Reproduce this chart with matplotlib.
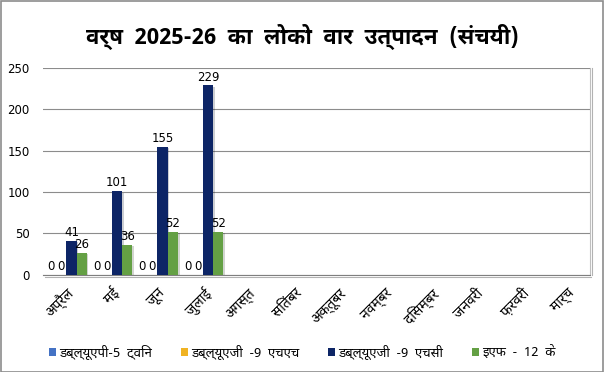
import numpy as np
import matplotlib
matplotlib.use("Agg")
import matplotlib.pyplot as plt
import matplotlib.patheffects as pe
from matplotlib.patches import Rectangle, Patch

plt.rcParams['font.family'] = ['Noto Sans Devanagari', 'DejaVu Sans']

# ---- data ----
months = ["अप्रैल", "मई", "जून", "जुलाई", "अगस्त", "सितंबर",
          "अक्तूबर", "नवम्बर", "दिसम्बर", "जनवरी", "फ़रवरी", "मार्च"]
series_names = ["डब्ल्यूएपी-5  ट्विन", "डब्ल्यूएजी  -9  एचएच",
                "डब्ल्यूएजी  -9  एचसी", "इएफ  -  12  के"]
wap5_twin = [0, 0, 0, 0]
wag9_hh = [0, 0, 0, 0]
wag9_hc = [41, 101, 155, 229]
ef12k = [26, 36, 52, 52]
colors = ["#4472C4", "#F0B323", "#0D2566", "#64A044"]

fig = plt.figure(figsize=(6.04, 3.72), dpi=100)
ax = fig.add_axes([0.072, 0.262, 0.905, 0.555])

x = np.arange(len(months))
w = 0.225
shadow = [pe.SimplePatchShadow(offset=(1.2, -1.0), alpha=0.2), pe.Normal()]
all_series = [wap5_twin, wag9_hh, wag9_hc, ef12k]
for i, (vals, col) in enumerate(zip(all_series, colors)):
    xs = x[:len(vals)] + (i - 1.5) * w
    bars = ax.bar(xs, vals, w, color=col, zorder=3)
    for b in bars:
        b.set_path_effects(shadow)
    for xi, v in zip(xs, vals):
        ax.text(xi, v + 2, str(v), ha="center", va="bottom", fontsize=8.5,
                family="DejaVu Sans", zorder=4)

ax.set_xlim(-0.5, len(months) - 0.5)
ax.set_ylim(0, 250)
ax.set_yticks(range(0, 251, 50))
ax.yaxis.grid(True, color="#8C8C8C", linewidth=0.8, zorder=0)
ax.set_axisbelow(True)
ax.tick_params(axis="y", length=0, labelsize=8.5, pad=10)
for lab in ax.get_yticklabels():
    lab.set_family("DejaVu Sans")
ax.set_xticks(x)
ax.set_xticklabels(months, rotation=45, ha="right", rotation_mode="anchor",
                   fontsize=10)
ax.tick_params(axis="x", length=0, pad=8)
for s in ["top", "right", "left"]:
    ax.spines[s].set_visible(False)
ax.spines["bottom"].set_color("#7F7F7F")
ax.spines["bottom"].set_path_effects(
    [pe.SimpleLineShadow(offset=(1, -1.5), alpha=0.3), pe.Normal()])

# plot-area right edge
ax.plot([1, 1], [0, 1], transform=ax.transAxes, color="#BFBFBF", lw=0.8,
        clip_on=False,
        path_effects=[pe.SimpleLineShadow(offset=(1.5, 0), alpha=0.3), pe.Normal()])

fig.suptitle("वर्ष  2025-26  का  लोको  वार  उत्पादन  (संचयी)", y=0.935,
             fontsize=16, fontweight="bold", family=["Noto Sans Devanagari UI", "DejaVu Sans"])

handles = [Patch(facecolor=c) for c in colors]
fig.legend(handles, series_names, loc="center", bbox_to_anchor=(0.5, 0.052), ncol=4,
           frameon=False, fontsize=9.5, handlelength=0.55, handleheight=0.55,
           handletextpad=0.2, columnspacing=2.2)

fig.patches.append(Rectangle((0.001, 0.001), 0.997, 0.996, transform=fig.transFigure,
                             fill=False, edgecolor="#8C8C8C", linewidth=1.2))

fig.savefig("out.png", dpi=100)
